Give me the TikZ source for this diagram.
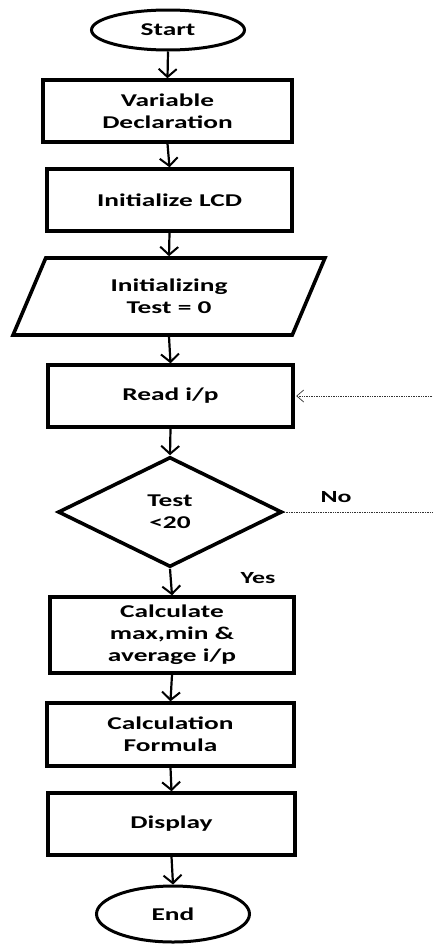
\documentclass[tikz,border=0pt]{standalone}
\usepackage{fontspec}
\setmainfont{Carlito}[FakeStretch=1.52]
\usetikzlibrary{shapes.geometric,arrows.meta}
\begin{document}
\begin{tikzpicture}[x=1pt,y=-1pt,
  every node/.style={font=\fontsize{18}{22}\selectfont\bfseries, align=center},
  box/.style={draw, line width=3.4pt, rectangle, inner sep=0pt},
  term/.style={draw, line width=3pt, ellipse, inner sep=0pt},
  io/.style={draw, line width=3.6pt, trapezium, trapezium left angle=66, trapezium right angle=114,
    trapezium stretches=true, inner sep=0pt},
  dec/.style={draw, line width=3.6pt, diamond, inner sep=0pt, aspect=2},
  flow/.style={line width=2.2pt, -{Straight Barb[length=8pt,width=18pt,line width=2pt]}},
  fb/.style={line width=0.7pt, densely dotted, black!80},
  lbl/.style={font=\fontsize{17}{20}\selectfont\bfseries}
]
\useasboundingbox (0,0) rectangle (432,945);
\node[term, minimum width=153pt, minimum height=40pt] (start) at (168,30) {Start};
\node[box, minimum width=249pt, minimum height=62pt] (vd) at (167.5,111) {Variable\\Declaration};
\node[box, minimum width=245pt, minimum height=62pt] (lcd) at (169.5,200) {Initialize LCD};
\node[io, minimum width=312pt, minimum height=77pt] (init) at (169,296.5) {Initializing\\Test = 0};
\node[box, minimum width=245pt, minimum height=62pt] (read) at (170.5,396) {Read i/p};
\node[dec, minimum width=224pt, minimum height=110pt] (test) at (170,512) {Test\\<20};
\node[box, minimum width=244pt, minimum height=76pt] (calc) at (172,635) {Calculate\\max,min \&\\average i/p};
\node[box, minimum width=247pt, minimum height=63pt] (form) at (170.5,734.5) {Calculation\\Formula};
\node[box, minimum width=247pt, minimum height=62pt] (disp) at (171.5,824) {Display};
\node[term, minimum width=153pt, minimum height=56pt] (end) at (173,914) {End};
\node[lbl] (no) at (336,497) {No};
\node[lbl] (yes) at (258,578) {Yes};
\coordinate (back) at (432,396);
\coordinate (out) at (432,512);
\draw[flow] (start.south) -- (vd.north);
\draw[flow] (vd.south) -- (lcd.north);
\draw[flow] (lcd.south) -- (init.north);
\draw[flow] (init.south) -- (read.north);
\draw[flow] (read.south) -- (test.north);
\draw[flow] (test.south) -- (calc.north);
\draw[flow] (calc.south) -- (form.north);
\draw[flow] (form.south) -- (disp.north);
\draw[flow] (disp.south) -- (end.north);
\draw[fb] (test.east) -- (out);
\draw[fb, -{Straight Barb[length=7pt,width=12pt,line width=0.7pt,sep=1.5pt]}] (back) -- (read.east);
\end{tikzpicture}
\end{document}
